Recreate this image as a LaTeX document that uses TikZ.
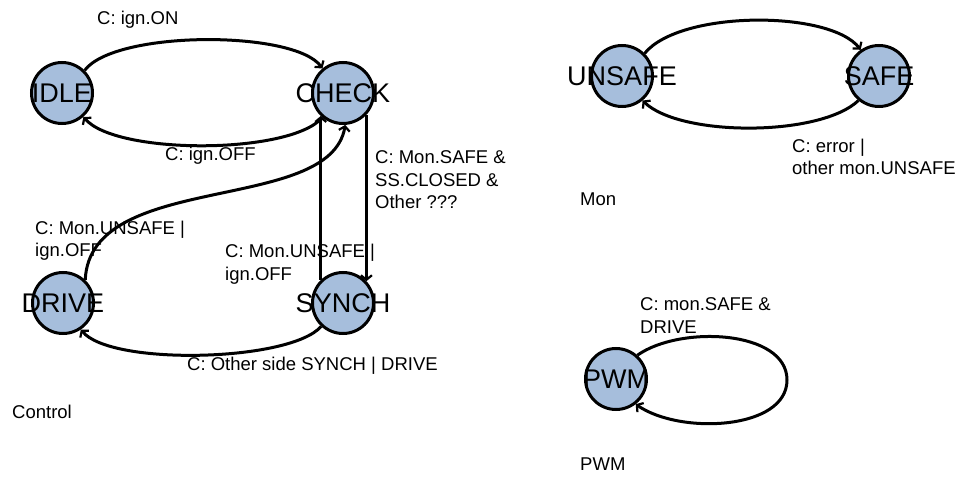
\documentclass[tikz,border=0pt]{standalone}
\usepackage{fontspec}
\setmainfont{Liberation Sans}
\usetikzlibrary{arrows.meta}
\definecolor{statefill}{RGB}{166,190,220}
\tikzset{
  state/.style={circle,draw=black,line width=3pt,fill=statefill,minimum size=61pt,inner sep=0pt},
  statetext/.style={font=\fontsize{27}{30}\selectfont,inner sep=0pt,text=black},
  lbl/.style={font=\fontsize{18.5}{22.5}\selectfont,align=left,anchor=base west,inner sep=0pt},
  edge/.style={line width=3pt,-{Straight Barb[length=4.5pt,width=11pt,line width=2.2pt]}},
}
\begin{document}
\begin{tikzpicture}[x=1pt,y=-1pt]
\useasboundingbox (0,0) rectangle (972,481);
% Control
\node[state,label={[statetext]center:IDLE}] (idle) at (62,93) {};
\node[state,label={[statetext]center:CHECK}] (check) at (343,93) {};
\node[state,label={[statetext]center:DRIVE}] (drive) at (63,303) {};
\node[state,label={[statetext]center:SYNCH}] (synch) at (343,303) {};
% Mon
\node[state,label={[statetext]center:UNSAFE}] (unsafe) at (622,76) {};
\node[state,label={[statetext]center:SAFE}] (safe) at (879,76) {};
% PWM
\node[state,label={[statetext]center:PWM}] (pwm) at (616,379) {};

\draw[edge] (idle.45) .. controls (115,30) and (295,30) .. (check.130);
\draw[edge] (check.-130) .. controls (290,155) and (115,155) .. (idle.-48);
\draw[edge] (check.-43) -- (synch.43);
\draw[edge] (synch.134) -- (check.-134);
\draw[edge] (drive.46) .. controls (90,170) and (330,215) .. (check.-86);
\draw[edge] (synch.-133) .. controls (290,362) and (110,366) .. (drive.-56);

\draw[edge] (unsafe.45) .. controls (680,10) and (830,10) .. (safe.125);
\draw[edge] (safe.-130) .. controls (820,137) and (680,137) .. (unsafe.-50);

\coordinate (loopR) at (787,380);
\draw[edge] (pwm.48) .. controls (680,325) and (787,330) .. (loopR) .. controls (787,430) and (680,435) .. (pwm.-52);

% labels (base = baseline of last line)
\node[lbl] (l1) at (97,25) {C: ign.ON};
\node[lbl] (l2) at (165,161) {C: ign.OFF};
\node[lbl] (l3) at (375,209) {C: Mon.SAFE \&\\SS.CLOSED \&\\Other ???};
\node[lbl] (l4) at (35,257) {C: Mon.UNSAFE |\\ign.OFF};
\node[lbl] (l5) at (225,280) {C: Mon.UNSAFE |\\ign.OFF};
\node[lbl] (l6) at (187,370) {C: Other side SYNCH | DRIVE};
\node[lbl] (l7) at (12,418) {Control};
\node[lbl] (l8) at (792,175) {C: error |\\other mon.UNSAFE};
\node[lbl] (l9) at (580,206) {Mon};
\node[lbl] (l10) at (640,333) {C: mon.SAFE \&\\DRIVE};
\node[lbl] (l11) at (580,470) {PWM};
\end{tikzpicture}
\end{document}
